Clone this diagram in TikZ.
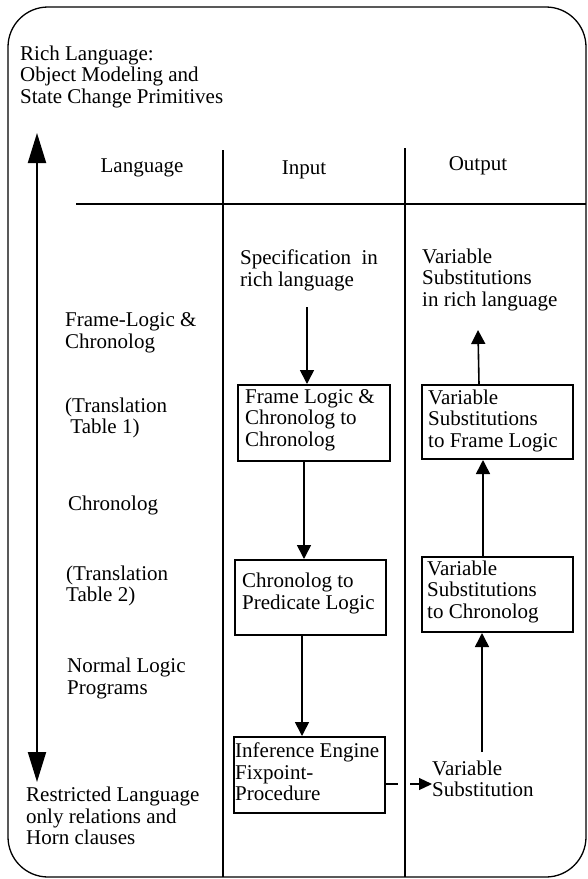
\documentclass[tikz,border=0pt]{standalone}
\usepackage{fontspec}
\setmainfont{Liberation Serif}
\usetikzlibrary{arrows.meta}
\begin{document}
\begin{tikzpicture}[x=1pt,y=-1pt,
  every node/.style={inner sep=0pt, font=\fontsize{21}{21.5}\selectfont},
  txt/.style={anchor=west, align=left, yshift=-3pt},
  hdr/.style={anchor=center, yshift=-2.5pt},
  box/.style={draw, line width=2pt, anchor=north west},
  rule/.style={line width=2pt},
  conn/.style={-{Triangle[length=14pt,width=14pt]}, line width=1.6pt},
  dconn/.style={-{Triangle[length=13pt,width=12pt]}, line width=1.2pt, dash pattern=on 12pt off 12pt},
  bigarrow/.style={{Triangle[length=30pt,width=18pt]}-{Triangle[length=30pt,width=18pt]}, line width=2pt}
]
\useasboundingbox (0,0) rectangle (587,879);
% outer frame
\draw[line width=1.3pt, rounded corners=40pt] (8,7) rectangle (586,877);
% table rules
\draw[rule] (223,150) -- (223,877);
\draw[rule] (405,148) -- (405,877);
\draw[rule] (76,204) -- (586,204);
% left scale arrow
\coordinate (la1) at (37,133);
\coordinate (la2) at (37,782);
\draw[bigarrow] (la1) -- (la2);
% top-left text
\node[txt] (rich) at (20,73.5) {Rich Language:\\Object Modeling and\\State Change Primitives};
% headers
\node[hdr] (hlang) at (142,165) {Language};
\node[hdr] (hin) at (304,167) {Input};
\node[hdr] (hout) at (478,163) {Output};
% language column
\node[txt] (l1) at (65,330) {Frame-Logic \&\\Chronolog};
\node[txt] (l2) at (65,415) {(Translation\\\ Table 1)};
\node[txt] (l3) at (68,502) {Chronolog};
\node[txt] (l4) at (66,583) {(Translation\\Table 2)};
\node[txt] (l5) at (67,675.5) {Normal Logic\\Programs};
\node[txt] (l6) at (26,813) {Restricted Language\\only relations and\\Horn clauses};
% input column
\node[txt] (spec) at (240,267.5) {Specification\ \ in\\rich language};
\node[box, minimum width=152pt, minimum height=76pt] (b1) at (237,384) {};
\node[txt] (b1t) at (245,417) {Frame Logic \&\\Chronolog to\\Chronolog};
\node[box, minimum width=151pt, minimum height=75pt] (b2) at (234,559) {};
\node[txt] (b2t) at (242,590.5) {Chronolog to\\Predicate Logic};
\node[box, minimum width=151pt, minimum height=76pt] (b3) at (233,736) {};
\node[txt] (b3t) at (235,769) {Inference Engine\\Fixpoint-\\Procedure};
% output column
\node[txt] (vrich) at (422,276.5) {Variable\\Substitutions\\in rich language};
\node[box, minimum width=151pt, minimum height=74pt] (o1) at (421,384) {};
\node[txt] (o1t) at (428,417.5) {Variable\\Substitutions\\to Frame Logic};
\node[box, minimum width=151pt, minimum height=75pt] (o2) at (421,556) {};
\node[txt] (o2t) at (427,588.5) {Variable\\Substitutions\\to Chronolog};
\node[txt] (vs) at (432,776) {Variable\\Substitution};
% connectors
\coordinate (s1) at (307,307);
\draw[conn] (s1) -- (s1 |- b1.north);
\draw[conn] ([xshift=-10pt]b1.south) -- ([xshift=-10pt]b1.south |- b2.north);
\draw[conn] ([xshift=-8.5pt]b2.south) -- ([xshift=-8.5pt]b2.south |- b3.north);
\coordinate (vtop) at (482,752);
\draw[conn] (vtop) -- (vtop |- o2.south);
\draw[conn] ([xshift=-14.5pt]o2.north) -- ([xshift=-14.5pt]o2.north |- o1.south);
\coordinate (vr) at (478,330);
\draw[conn] ([xshift=-18.5pt]o1.north) -- (vr);
\draw[dconn] ([yshift=-9pt]b3.east) -- ([yshift=-9pt]b3.east -| vs.west);
\end{tikzpicture}
\end{document}
